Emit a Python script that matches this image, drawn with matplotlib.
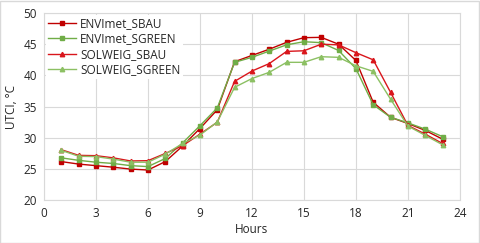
import matplotlib
matplotlib.use("Agg")
import matplotlib.pyplot as plt
from matplotlib.patches import Rectangle

hours = list(range(1, 24))
envimet_sbau = [26.2, 25.8, 25.55, 25.3, 25.0, 24.85, 26.2, 28.7, 31.5, 34.5, 42.2,
                43.2, 44.2, 45.3, 46.05, 46.1, 45.0, 42.4, 35.7, 33.3, 32.3, 31.2, 29.8]
envimet_sgreen = [26.8, 26.4, 26.1, 25.9, 25.55, 25.4, 26.7, 29.2, 31.95, 34.8, 42.1,
                  42.9, 43.9, 44.9, 45.4, 45.25, 44.0, 41.1, 35.3, 33.3, 32.4, 31.4, 30.2]
solweig_sbau = [28.1, 27.2, 27.15, 26.8, 26.3, 26.35, 27.5, 28.75, 30.6, 32.5, 39.05,
                40.7, 41.9, 43.85, 43.95, 45.0, 44.9, 43.65, 42.5, 37.3, 32.0, 30.6, 29.1]
solweig_sgreen = [28.0, 27.05, 27.0, 26.6, 26.1, 26.1, 27.4, 29.1, 30.45, 32.55, 38.1,
                  39.5, 40.5, 42.1, 42.1, 43.0, 42.9, 41.55, 40.65, 36.2, 31.9, 30.4, 28.9]
labels = ["ENVImet_SBAU", "ENVImet_SGREEN", "SOLWEIG_SBAU", "SOLWEIG_SGREEN"]
xticks = [0, 3, 6, 9, 12, 15, 18, 21, 24]
yticks = [20, 25, 30, 35, 40, 45, 50]

plt.rcParams['font.family'] = ['Open Sans', 'DejaVu Sans']
fig = plt.figure(figsize=(4.8, 2.43), dpi=100)
ax = fig.add_axes([0.0917, 0.1757, 0.8663, 0.7708])

series = [envimet_sbau, envimet_sgreen, solweig_sbau, solweig_sgreen]
colors = ["#C00000", "#70AD47", "#D9161C", "#8CC063"]
markers = ["s", "s", "^", "^"]
for s, c, m, lab in zip(series, colors, markers, labels):
    ax.plot(hours, s, color=c, marker=m, markersize=3.2, linewidth=1.0, label=lab)

ax.set_xlim(0, 24)
ax.set_ylim(20, 50)
ax.set_xticks(xticks)
ax.set_yticks(yticks)
ax.grid(True, color="#D9D9D9", linewidth=0.8)
ax.set_axisbelow(True)
for sp in ax.spines.values():
    sp.set_color("#D9D9D9")
    sp.set_linewidth(0.8)
ax.tick_params(length=0, labelsize=8.5, colors="#262626", pad=5)
ax.set_xlabel("Hours", fontsize=8.5, color="#262626", labelpad=2)
ax.set_ylabel("UTCI, °C", fontsize=8.5, color="#262626", labelpad=4)

leg = ax.legend(loc="upper left", fontsize=8.5, frameon=True, fancybox=False,
                edgecolor="white", framealpha=1, borderaxespad=0.15,
                handlelength=2.4, handletextpad=0.3, labelspacing=0.2,
                borderpad=0.2)
leg.get_frame().set_linewidth(0)
for t in leg.get_texts():
    t.set_color("#262626")

fig.patches.append(Rectangle((0.001, 0.002), 0.997, 0.995, transform=fig.transFigure,
                             fill=False, edgecolor="#D9D9D9", linewidth=1))
fig.savefig("out.png", dpi=100)
